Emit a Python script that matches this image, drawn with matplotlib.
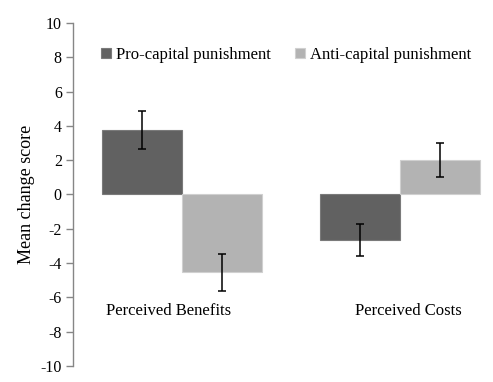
import matplotlib.pyplot as plt
import numpy as np

categories = ["Perceived Benefits", "Perceived Costs"]
series_names = ["Pro-capital punishment", "Anti-capital punishment"]
pro_means = [3.75, -2.65]
anti_means = [-4.55, 2.0]
pro_err = [1.1, 0.95]
anti_err = [1.1, 0.97]
yticks = list(range(-10, 11, 2))

plt.rcParams['font.family'] = ['Liberation Serif', 'DejaVu Serif']

fig = plt.figure(figsize=(4.93, 3.82), dpi=100)
ax = fig.add_axes([0.148, 0.042, 0.884, 0.898])

x = np.arange(len(categories))
w = 0.367
dark = "#616161"
light = "#b3b3b3"

ax.bar(x - w / 2, pro_means, w, color=dark, edgecolor="#7a7a7a", linewidth=0.8,
       label=series_names[0], zorder=2)
ax.bar(x + w / 2, anti_means, w, color=light, edgecolor="#d0d0d0", linewidth=0.8,
       label=series_names[1], zorder=2)
ax.errorbar(x - w / 2, pro_means, yerr=pro_err, fmt="none", ecolor="black",
            elinewidth=1.1, capsize=3, capthick=1.1, zorder=3)
ax.errorbar(x + w / 2, anti_means, yerr=anti_err, fmt="none", ecolor="black",
            elinewidth=1.1, capsize=3, capthick=1.1, zorder=3)

ax.set_xlim(-0.5, 1.5)
ax.set_ylim(-10, 10)
ax.set_yticks(yticks)
ax.set_yticklabels([str(t) for t in yticks], fontsize=11.5)
ax.tick_params(axis="y", direction="out", length=5, color="#868686", width=1, pad=3)
ax.set_xticks([])
for s in ["top", "right", "bottom"]:
    ax.spines[s].set_visible(False)
ax.spines["left"].set_color("#868686")
ax.spines["left"].set_linewidth(1)
ax.set_ylabel("Mean change score", fontsize=13, labelpad=4)

# category labels sit below the bars like in the original
offsets = [-0.06, 0.04]
for i, name in enumerate(categories):
    ax.text(x[i] + offsets[i], -6.8, name, ha="center", va="center", fontsize=12)

ax.legend(loc="upper left", bbox_to_anchor=(0.05, 0.95), ncol=2, frameon=False,
          fontsize=12, handlelength=0.6, handleheight=0.6, handletextpad=0.3,
          columnspacing=1.4, borderaxespad=0)

fig.savefig("out.png", dpi=100)
